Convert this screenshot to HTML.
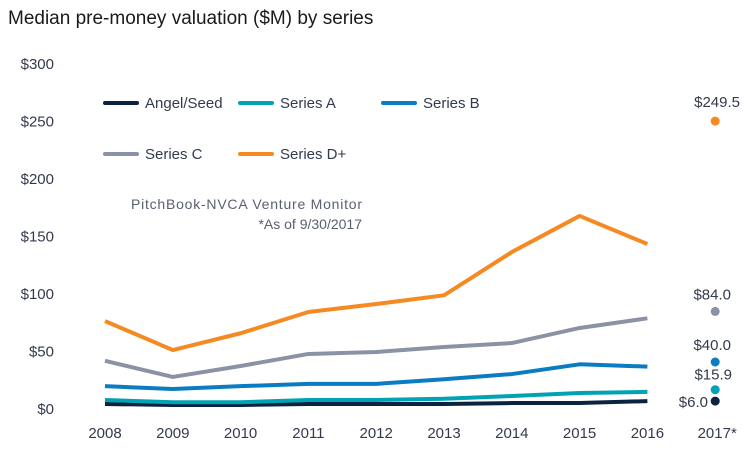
<!DOCTYPE html>
<html><head><meta charset="utf-8">
<style>
body{margin:0;background:#fff;font-family:"Liberation Sans",sans-serif;}
svg text{font-family:"Liberation Sans",sans-serif;}
</style></head>
<body>
<svg id="c" width="756" height="450">
<text x="8" y="24" font-size="19" fill="#1a1a1a">Median pre-money valuation ($M) by series</text>
<text x="131" y="209" font-size="14" fill="#5a6070" textLength="231">PitchBook-NVCA Venture Monitor</text>
<text x="362" y="229" font-size="14" fill="#5a6070" text-anchor="end">*As of 9/30/2017</text>
<g id="legend"></g>
<g id="axes"></g>
<g id="series"></g>
</svg>
<script>
const years=["2008","2009","2010","2011","2012","2013","2014","2015","2016"];
const lastLabel="2017*";
const yTicks=[0,50,100,150,200,250,300];
const angelSeed=[3.5,2.6,2.6,3.5,3.5,3.5,4.3,4.3,6];
const seriesA=[7,5,5,7,7,8,10.4,13,14];
const seriesB=[19,16.5,19,21,21,25,29.5,38,36];
const seriesC=[41,27,36.5,47,48.7,53,56.5,69.6,78];
const seriesD=[75.6,50.4,65,83.5,90.4,98,135.6,167,142.6];
const val2017=[6.0,15.9,40.0,84.0,249.5];

const NS="http://www.w3.org/2000/svg";
const svg=document.getElementById('c');
function el(t,a,p){const e=document.createElementNS(NS,t);for(const k in a)e.setAttribute(k,a[k]);(p||svg).appendChild(e);return e;}
const x=i=>105+i*67.8;
const y=v=>408-v*1.15;
const axes=document.getElementById('axes');
yTicks.forEach(t=>{const e=el('text',{x:54,y:y(t)+6,'font-size':15,fill:'#333a4d','text-anchor':'end'},axes);e.textContent='$'+t;

});
years.concat([lastLabel]).forEach((yr,i)=>{const e=el('text',{x:x(i)+(i==9?2:0),y:438,'font-size':15,fill:'#333a4d','text-anchor':'middle'},axes);e.textContent=yr;

});
const defs=[["Angel/Seed",angelSeed,"#0c2340"],["Series A",seriesA,"#00a3b4"],["Series B",seriesB,"#0a7cc1"],["Series C",seriesC,"#8a93a5"],["Series D+",seriesD,"#f58a23"]];
const sg=document.getElementById('series');
const lg=document.getElementById('legend');
const lpos=[[105,103],[240,103],[383,103],[105,154],[240,154]];
defs.forEach((d,k)=>{
 const p=el('polyline',{points:d[1].map((v,i)=>x(i)+','+y(v)).join(' '),fill:'none',stroke:d[2],'stroke-width':4,'stroke-linejoin':'round'},sg);
 
 
 const c=el('circle',{cx:x(9),cy:y(val2017[k]),r:4.5,fill:d[2]},sg);
 
 
 const [lx,ly]=lpos[k];
 const ll=el('line',{x1:lx,y1:ly,x2:lx+32,y2:ly,stroke:d[2],'stroke-width':4,'stroke-linecap':'round'},lg);
 
 
 const lt=el('text',{x:lx+40,y:ly+5,'font-size':15,fill:'#333a4d'},lg);lt.textContent=d[0];
 
 
});
const lbls=[[708,val2017[0],'end',6],[732,val2017[1],'end',-10],[731,val2017[2],'end',-12],[731,val2017[3],'end',-12],[740,val2017[4],'end',-14]];
lbls.forEach(l=>{const e=el('text',{x:l[0],y:y(l[1])+l[3],'font-size':15,fill:'#333a4d','text-anchor':l[2]},sg);e.textContent='$'+l[1].toFixed(1);

});
</script>
</body></html>
